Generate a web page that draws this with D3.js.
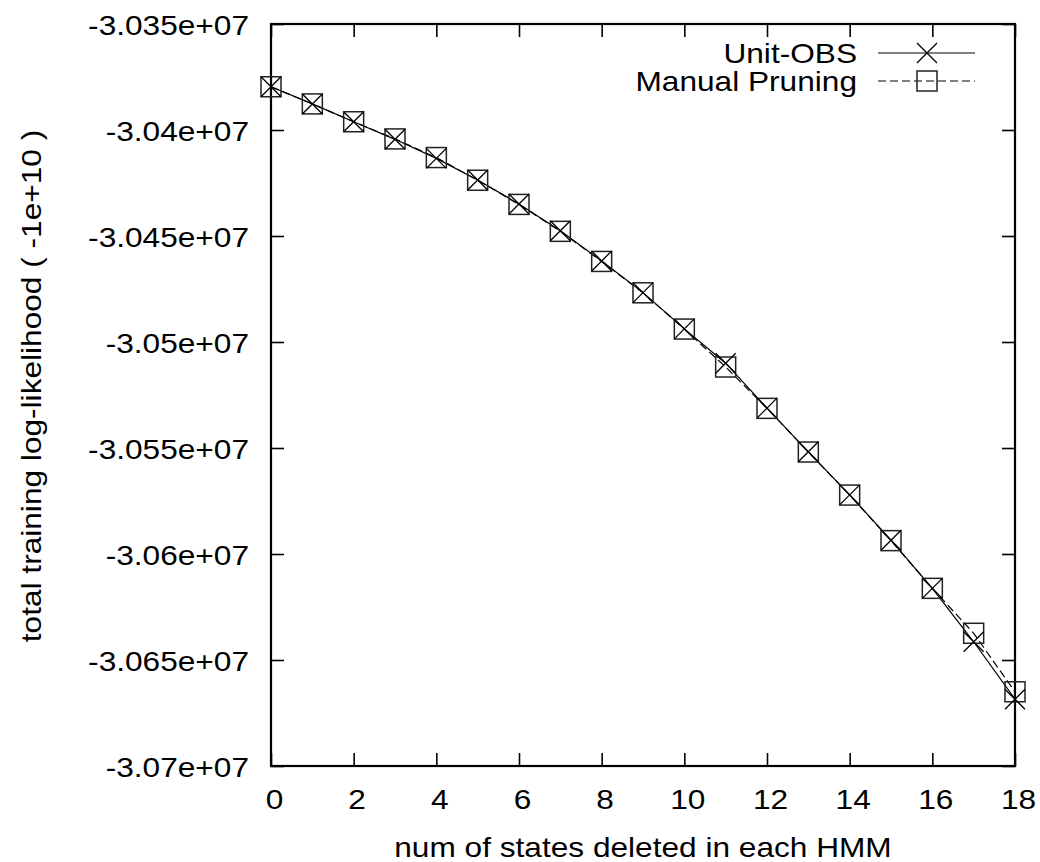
<!DOCTYPE html>
<html>
<head>
<meta charset="utf-8">
<script src="https://cdn.jsdelivr.net/npm/d3@7"></script>
<style>
  body { margin: 0; background: #fff; }
  text { font-family: "Liberation Sans", Arial, sans-serif; font-size: 28px; fill: #000; }
</style>
</head>
<body>
<script>
// values
const states = [0,1,2,3,4,5,6,7,8,9,10,11,12,13,14,15,16,17,18];
const unitObs = [-30379600,-30387700,-30396100,-30404400,-30413400,-30423600,-30434900,-30447500,-30461800,-30476700,
                 -30493800,-30510000,-30531200,-30551800,-30572100,-30593500,-30616200,-30641400,-30668500];
const manual  = [-30379600,-30387700,-30396100,-30404200,-30413000,-30423700,-30435100,-30447800,-30462000,-30476800,
                 -30493900,-30511800,-30531300,-30551900,-30572200,-30593700,-30616200,-30637400,-30665000];
const xTicks = [0,2,4,6,8,10,12,14,16,18];
const yTicks = [-30350000,-30400000,-30450000,-30500000,-30550000,-30600000,-30650000,-30700000];
const seriesNames = ["Unit-OBS","Manual Pruning"];

const W = 1040, H = 862;
const mLeft = 271, mRight = 1015, mTop = 24, mBottom = 766;
const SX = 1.13; // the reference font is a little wider than Liberation Sans

const svg = d3.select("body").append("svg")
  .attr("width", W).attr("height", H);

const x = d3.scaleLinear().domain([0,18]).range([mLeft,mRight]);
const y = d3.scaleLinear().domain([-30700000,-30350000]).range([mBottom,mTop]);

function yFmt(d){
  return (d/1e7).toFixed(4).replace(/0+$/,"") + "e+07";
}

// axes, ticks pointing inward on all sides
const gl = svg.append("g").attr("transform", `translate(${mLeft},0)`)
  .call(d3.axisLeft(y).tickValues(yTicks).tickSize(-13).tickFormat(yFmt));
gl.selectAll("text")
  .attr("x", -22/SX).attr("dy", "0.36em")
  .attr("transform", `scale(${SX},1)`);

svg.append("g").attr("transform", `translate(${mRight},0)`)
  .call(d3.axisRight(y).tickValues(yTicks).tickSize(-13).tickFormat(""));

const gb = svg.append("g").attr("transform", `translate(0,${mBottom})`)
  .call(d3.axisBottom(x).tickValues(xTicks).tickSize(-13));
gb.selectAll("text")
  .attr("y", 43).attr("dy", null).attr("x", 3/SX)
  .attr("transform", `scale(${SX},1)`);

svg.append("g").attr("transform", `translate(0,${mTop})`)
  .call(d3.axisTop(x).tickValues(xTicks).tickSize(-13).tickFormat(""));

svg.selectAll(".domain").remove();
svg.selectAll(".tick line").attr("stroke", "#000").attr("stroke-width", 1.6);
svg.selectAll(".tick text").style("font-size", "28px").attr("fill", "#000")
  .style("font-family", "'Liberation Sans', Arial, sans-serif");

svg.append("rect")
  .attr("x", mLeft).attr("y", mTop)
  .attr("width", mRight-mLeft).attr("height", mBottom-mTop)
  .attr("fill", "none").attr("stroke", "#000").attr("stroke-width", 2.2);

// titles
svg.append("text")
  .attr("text-anchor", "middle")
  .attr("transform", `translate(${(mLeft+mRight)/2},857) scale(${SX},1)`)
  .text("num of states deleted in each HMM");

svg.append("text")
  .attr("text-anchor", "middle")
  .attr("transform", `translate(41,386) rotate(-90) scale(${SX},1)`)
  .text("total training log-likelihood ( -1e+10 )");

// lines
const line = d3.line().x((d,i) => x(states[i])).y(d => y(d));

svg.append("path").datum(manual)
  .attr("d", line).attr("fill", "none")
  .attr("stroke", "#000").attr("stroke-width", 1.2)
  .attr("stroke-dasharray", "8,4");

svg.append("path").datum(unitObs)
  .attr("d", line).attr("fill", "none")
  .attr("stroke", "#000").attr("stroke-width", 1.2);

const r = 10;
function cross(g, cx, cy){
  g.append("path")
    .attr("d", `M${cx-r},${cy-r}L${cx+r},${cy+r}M${cx-r},${cy+r}L${cx+r},${cy-r}`)
    .attr("stroke", "#000").attr("stroke-width", 1.3).attr("fill", "none");
}
function square(g, cx, cy){
  g.append("rect")
    .attr("x", cx-r).attr("y", cy-r).attr("width", 2*r).attr("height", 2*r)
    .attr("fill", "none").attr("stroke", "#222").attr("stroke-width", 1.5);
}

const mk = svg.append("g");
manual.forEach((v,i) => square(mk, x(states[i]), y(v)));
unitObs.forEach((v,i) => cross(mk, x(states[i]), y(v)));

// legend
const lg = svg.append("g");
const rows = [53, 81];
seriesNames.forEach((name, i) => {
  lg.append("text")
    .attr("text-anchor", "end")
    .attr("transform", `translate(857,${rows[i]+10}) scale(${SX},1)`)
    .text(name);
  lg.append("line")
    .attr("x1", 878).attr("x2", 975).attr("y1", rows[i]).attr("y2", rows[i])
    .attr("stroke", "#000").attr("stroke-width", 1.2)
    .attr("stroke-dasharray", i === 1 ? "8,4" : null);
  if (i === 0) cross(lg, 927, rows[i]); else square(lg, 927, rows[i]);
});
</script>
</body>
</html>
